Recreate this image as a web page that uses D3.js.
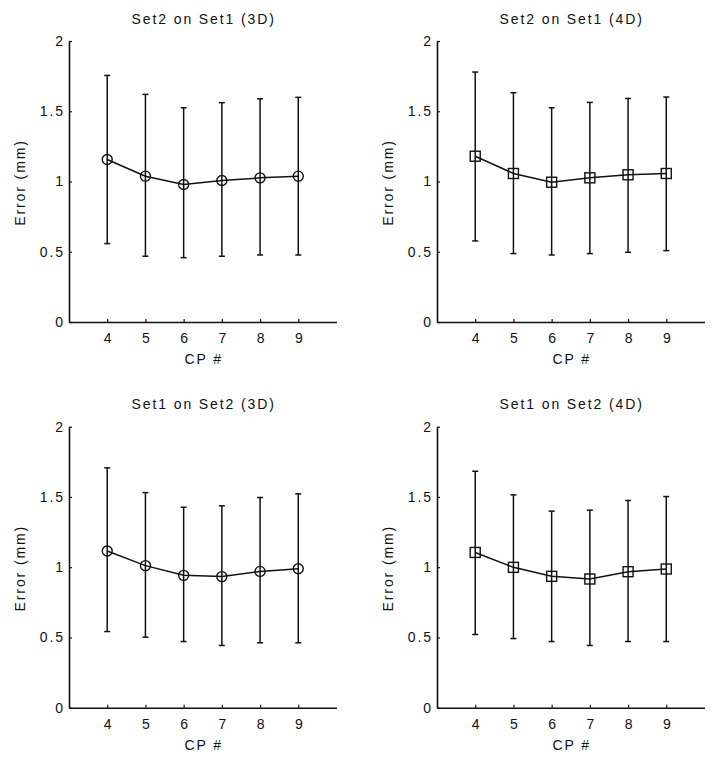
<!DOCTYPE html>
<html>
<head>
<meta charset="utf-8">
<script src="https://cdn.jsdelivr.net/npm/d3@7"></script>
<style>
  html, body { margin: 0; padding: 0; background: #fff; }
  svg text { font-family: "Liberation Sans", Arial, Helvetica, sans-serif; fill: #111; }
</style>
</head>
<body>
<svg id="chart" width="720" height="764"></svg>
<script>
// ---- data ----
const cpNumbers = [4, 5, 6, 7, 8, 9];
const yTicks = [0, 0.5, 1, 1.5, 2];
const panelTitles = ["Set2 on Set1 (3D)", "Set2 on Set1 (4D)", "Set1 on Set2 (3D)", "Set1 on Set2 (4D)"];
const markerTypes = ["circle", "square", "circle", "square"];

const meanS2S1_3D = [1.157, 1.038, 0.979, 1.007, 1.026, 1.038];
const lowS2S1_3D  = [0.558, 0.468, 0.458, 0.468, 0.477, 0.477];
const highS2S1_3D = [1.755, 1.620, 1.525, 1.561, 1.589, 1.599];

const meanS2S1_4D = [1.180, 1.057, 0.995, 1.026, 1.048, 1.057];
const lowS2S1_4D  = [0.577, 0.487, 0.477, 0.487, 0.496, 0.508];
const highS2S1_4D = [1.779, 1.632, 1.525, 1.563, 1.591, 1.601];

const meanS1S2_3D = [1.115, 1.011, 0.942, 0.933, 0.970, 0.989];
const lowS1S2_3D  = [0.542, 0.502, 0.471, 0.443, 0.462, 0.462];
const highS1S2_3D = [1.707, 1.531, 1.427, 1.437, 1.496, 1.522];

const meanS1S2_4D = [1.105, 0.999, 0.935, 0.916, 0.968, 0.987];
const lowS1S2_4D  = [0.521, 0.492, 0.471, 0.443, 0.471, 0.471];
const highS1S2_4D = [1.683, 1.515, 1.399, 1.406, 1.475, 1.503];

const panelMeans = [meanS2S1_3D, meanS2S1_4D, meanS1S2_3D, meanS1S2_4D];
const panelLows  = [lowS2S1_3D, lowS2S1_4D, lowS1S2_3D, lowS1S2_4D];
const panelHighs = [highS2S1_3D, highS2S1_4D, highS1S2_3D, highS1S2_4D];

// ---- layout ----
const FS = 14;
const LS = 1.9; // letter spacing
const panelLeft = [69, 437, 69, 437];
const panelTop = [41, 41, 426.7, 426.7];
const plotW = 267.5;
const plotH = 281;

const svg = d3.select("#chart");

panelTitles.forEach((title, p) => {
  const g = svg.append("g").attr("transform", `translate(${panelLeft[p]},${panelTop[p]})`);
  const x = d3.scaleLinear().domain([3, 10]).range([0, plotW]);
  const y = d3.scaleLinear().domain([0, 2]).range([plotH, 0]);

  const yAxis = d3.axisLeft(y).tickValues(yTicks).tickFormat(d3.format("~g"))
    .tickSizeInner(-3).tickSizeOuter(0).tickPadding(6 - LS);
  const xAxis = d3.axisBottom(x).tickValues(cpNumbers).tickFormat(d3.format("d"))
    .tickSizeInner(-3).tickSizeOuter(0).tickPadding(11);

  const ya = g.append("g").call(yAxis);
  const xa = g.append("g").attr("transform", `translate(0,${plotH})`).call(xAxis);
  [ya, xa].forEach(a => {
    a.select(".domain").attr("stroke", "#111").attr("stroke-width", 1.6);
    a.selectAll(".tick line").attr("stroke", "#111").attr("stroke-width", 1.2);
    a.selectAll(".tick text").attr("font-size", FS).attr("letter-spacing", LS)
      .attr("fill", "#111").attr("font-family", null);
  });
  xa.selectAll(".tick text").attr("dx", LS / 2);

  // title
  g.append("text").attr("x", plotW / 2 + LS / 2).attr("y", -17.5)
    .attr("text-anchor", "middle").attr("font-size", FS).attr("letter-spacing", LS)
    .text(title);
  // x label
  g.append("text").attr("x", plotW / 2 + LS / 2).attr("y", plotH + 42)
    .attr("text-anchor", "middle").attr("font-size", FS).attr("letter-spacing", LS)
    .text("CP  #");
  // y label
  g.append("text").attr("transform", `translate(-44,${plotH / 2 + LS / 2}) rotate(-90)`)
    .attr("text-anchor", "middle").attr("font-size", FS).attr("letter-spacing", LS)
    .text("Error (mm)");

  const means = panelMeans[p], lows = panelLows[p], highs = panelHighs[p];
  const pts = cpNumbers.map((c, i) => ({ c, m: means[i], lo: lows[i], hi: highs[i] }));

  // error bars
  const eb = g.append("g").attr("stroke", "#111").attr("stroke-width", 1.5).attr("fill", "none");
  eb.selectAll("line.v").data(pts).join("line").attr("class", "v")
    .attr("x1", d => x(d.c)).attr("x2", d => x(d.c))
    .attr("y1", d => y(d.lo)).attr("y2", d => y(d.hi));
  eb.selectAll("line.t").data(pts).join("line").attr("class", "t")
    .attr("x1", d => x(d.c) - 3).attr("x2", d => x(d.c) + 3)
    .attr("y1", d => y(d.hi)).attr("y2", d => y(d.hi));
  eb.selectAll("line.b").data(pts).join("line").attr("class", "b")
    .attr("x1", d => x(d.c) - 3).attr("x2", d => x(d.c) + 3)
    .attr("y1", d => y(d.lo)).attr("y2", d => y(d.lo));

  // connecting line
  g.append("path").datum(pts)
    .attr("d", d3.line().x(d => x(d.c)).y(d => y(d.m)))
    .attr("fill", "none").attr("stroke", "#111").attr("stroke-width", 1.5);

  // markers
  if (markerTypes[p] === "circle") {
    g.selectAll("circle.mk").data(pts).join("circle").attr("class", "mk")
      .attr("cx", d => x(d.c)).attr("cy", d => y(d.m)).attr("r", 5)
      .attr("fill", "none").attr("stroke", "#111").attr("stroke-width", 1.4);
  } else {
    g.selectAll("rect.mk").data(pts).join("rect").attr("class", "mk")
      .attr("x", d => x(d.c) - 5).attr("y", d => y(d.m) - 5)
      .attr("width", 10).attr("height", 10)
      .attr("fill", "none").attr("stroke", "#111").attr("stroke-width", 1.4);
  }
});
</script>
</body>
</html>
